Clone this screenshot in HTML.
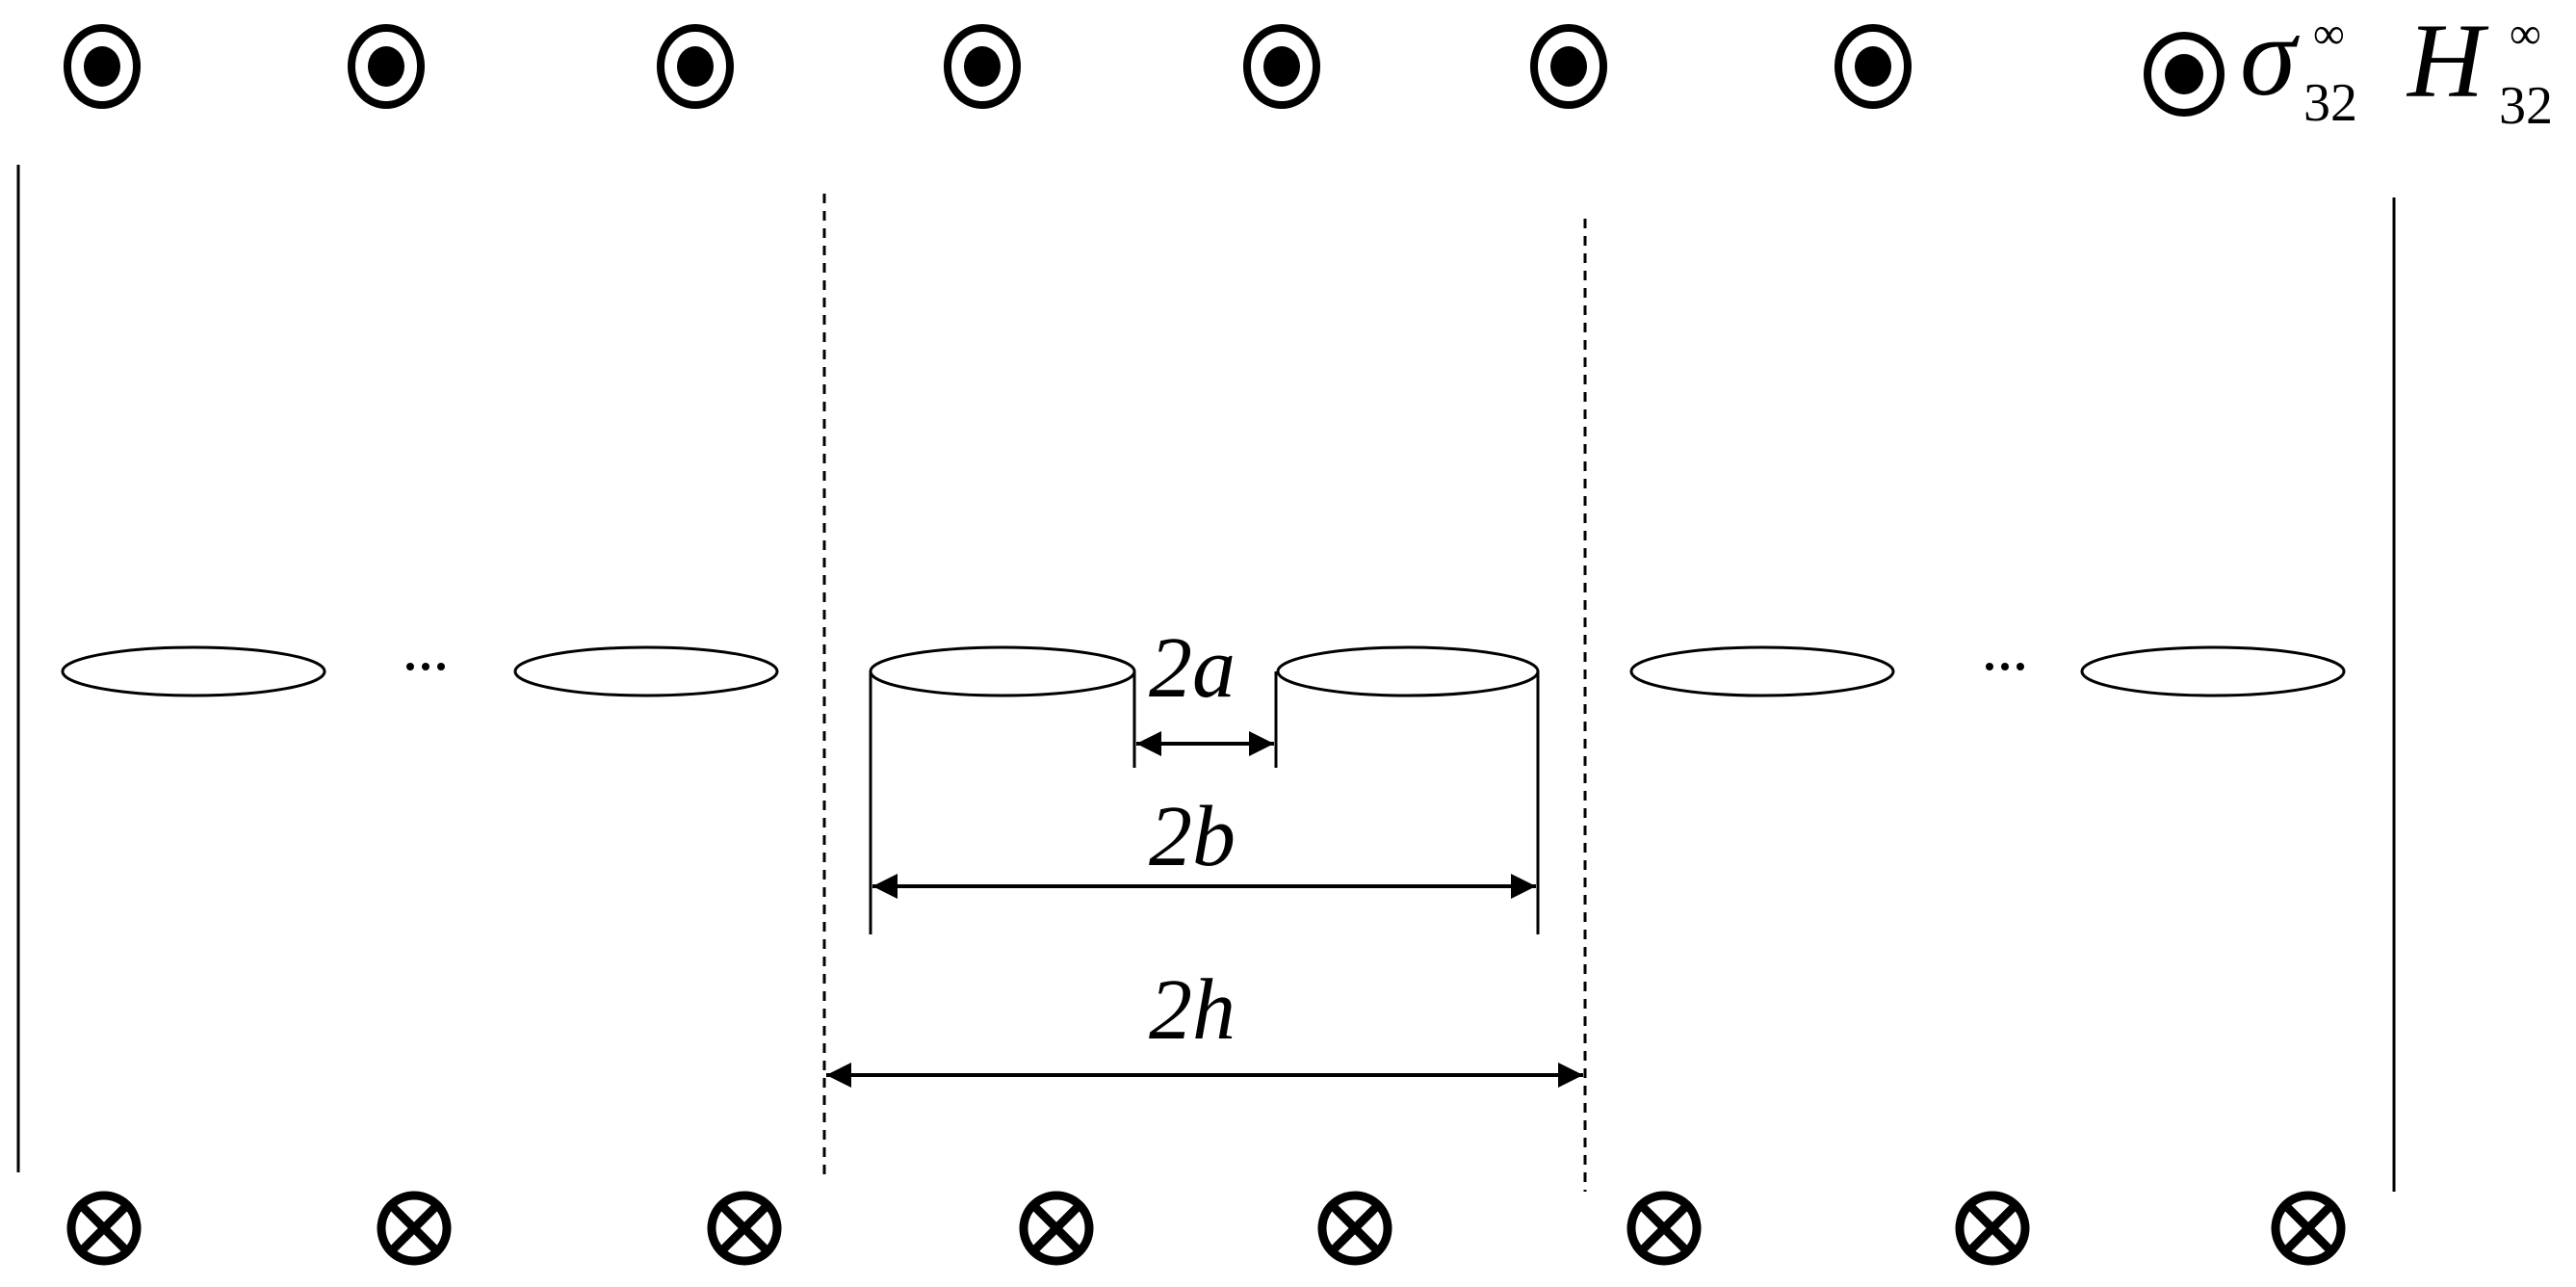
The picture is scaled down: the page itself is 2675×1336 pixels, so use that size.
<!DOCTYPE html>
<html><head><meta charset="utf-8"><style>html,body{margin:0;padding:0;background:#fff}svg{display:block}</style></head>
<body>
<svg width="2675" height="1336" viewBox="0 0 2675 1336" xmlns="http://www.w3.org/2000/svg">
<defs>
<marker id="ah" markerWidth="28" markerHeight="28" refX="26" refY="13" orient="auto-start-reverse" markerUnits="userSpaceOnUse">
<path d="M0,0 L26,13 L0,26 Z" fill="#000"/>
</marker>
</defs>
<g fill="none" stroke="#000" stroke-width="8">
<ellipse cx="106" cy="69" rx="36" ry="40"/>
<ellipse cx="401" cy="69" rx="36" ry="40"/>
<ellipse cx="722" cy="69" rx="36" ry="40"/>
<ellipse cx="1020" cy="69" rx="36" ry="40"/>
<ellipse cx="1331" cy="69" rx="36" ry="40"/>
<ellipse cx="1629" cy="69" rx="36" ry="40"/>
<ellipse cx="1945" cy="69" rx="36" ry="40"/>
<ellipse cx="2268" cy="77" rx="38" ry="40"/>
</g>
<g fill="#000">
<ellipse cx="106" cy="69" rx="19" ry="21"/>
<ellipse cx="401" cy="69" rx="19" ry="21"/>
<ellipse cx="722" cy="69" rx="19" ry="21"/>
<ellipse cx="1020" cy="69" rx="19" ry="21"/>
<ellipse cx="1331" cy="69" rx="19" ry="21"/>
<ellipse cx="1629" cy="69" rx="19" ry="21"/>
<ellipse cx="1945" cy="69" rx="19" ry="21"/>
<ellipse cx="2268" cy="77" rx="20" ry="21"/>
</g>
<g font-family="Liberation Serif, serif" fill="#000">
<text x="2326" y="98" font-size="118" font-style="italic">σ</text>
<text x="2392" y="125" font-size="56">32</text>
<text x="2402" y="50" font-size="46">∞</text>
<text x="2500" y="100" font-size="110" font-style="italic">H</text>
<text x="2595" y="128" font-size="56">32</text>
<text x="2606" y="50" font-size="46">∞</text>
</g>
<g stroke="#000" stroke-width="3" fill="none">
<line x1="19" y1="171" x2="19" y2="1217"/>
<line x1="2486" y1="205" x2="2486" y2="1237"/>
<line x1="856" y1="201" x2="856" y2="1220" stroke-dasharray="10,8"/>
<line x1="1646" y1="227" x2="1646" y2="1237" stroke-dasharray="10,8"/>
<ellipse cx="201" cy="697" rx="136" ry="25"/>
<ellipse cx="671" cy="697" rx="136" ry="25"/>
<ellipse cx="1041" cy="697" rx="137" ry="25"/>
<ellipse cx="1462" cy="697" rx="135" ry="25"/>
<ellipse cx="1830" cy="697" rx="136" ry="25"/>
<ellipse cx="2298" cy="697" rx="136" ry="25"/>
<line x1="904" y1="697" x2="904" y2="970"/>
<line x1="1597" y1="697" x2="1597" y2="970"/>
<line x1="1178" y1="697" x2="1178" y2="797"/>
<line x1="1325" y1="697" x2="1325" y2="797"/>
<line x1="1180" y1="772" x2="1323" y2="772" stroke-width="4" marker-start="url(#ah)" marker-end="url(#ah)"/>
<line x1="906" y1="920" x2="1595" y2="920" stroke-width="4" marker-start="url(#ah)" marker-end="url(#ah)"/>
<line x1="858" y1="1116" x2="1644" y2="1116" stroke-width="4" marker-start="url(#ah)" marker-end="url(#ah)"/>
</g>
<g fill="#000">
<circle cx="426" cy="692" r="4"/><circle cx="442" cy="692" r="4"/><circle cx="458" cy="692" r="4"/>
<circle cx="2066" cy="692" r="4"/><circle cx="2082" cy="692" r="4"/><circle cx="2098" cy="692" r="4"/>
</g>
<g font-family="Liberation Serif, serif" font-style="italic" font-size="90" fill="#000" text-anchor="middle">
<text x="1238" y="723">2a</text>
<text x="1238" y="898">2b</text>
<text x="1238" y="1078">2h</text>
</g>
<g fill="none" stroke="#000" stroke-width="9">
<g transform="translate(108,1275)"><circle r="34"/><line x1="-24" y1="-24" x2="24" y2="24"/><line x1="24" y1="-24" x2="-24" y2="24"/></g>
<g transform="translate(430,1275)"><circle r="34"/><line x1="-24" y1="-24" x2="24" y2="24"/><line x1="24" y1="-24" x2="-24" y2="24"/></g>
<g transform="translate(773,1275)"><circle r="34"/><line x1="-24" y1="-24" x2="24" y2="24"/><line x1="24" y1="-24" x2="-24" y2="24"/></g>
<g transform="translate(1097,1275)"><circle r="34"/><line x1="-24" y1="-24" x2="24" y2="24"/><line x1="24" y1="-24" x2="-24" y2="24"/></g>
<g transform="translate(1407,1275)"><circle r="34"/><line x1="-24" y1="-24" x2="24" y2="24"/><line x1="24" y1="-24" x2="-24" y2="24"/></g>
<g transform="translate(1728,1275)"><circle r="34"/><line x1="-24" y1="-24" x2="24" y2="24"/><line x1="24" y1="-24" x2="-24" y2="24"/></g>
<g transform="translate(2069,1275)"><circle r="34"/><line x1="-24" y1="-24" x2="24" y2="24"/><line x1="24" y1="-24" x2="-24" y2="24"/></g>
<g transform="translate(2397,1275)"><circle r="34"/><line x1="-24" y1="-24" x2="24" y2="24"/><line x1="24" y1="-24" x2="-24" y2="24"/></g>
</g>
</svg>
</body></html>
